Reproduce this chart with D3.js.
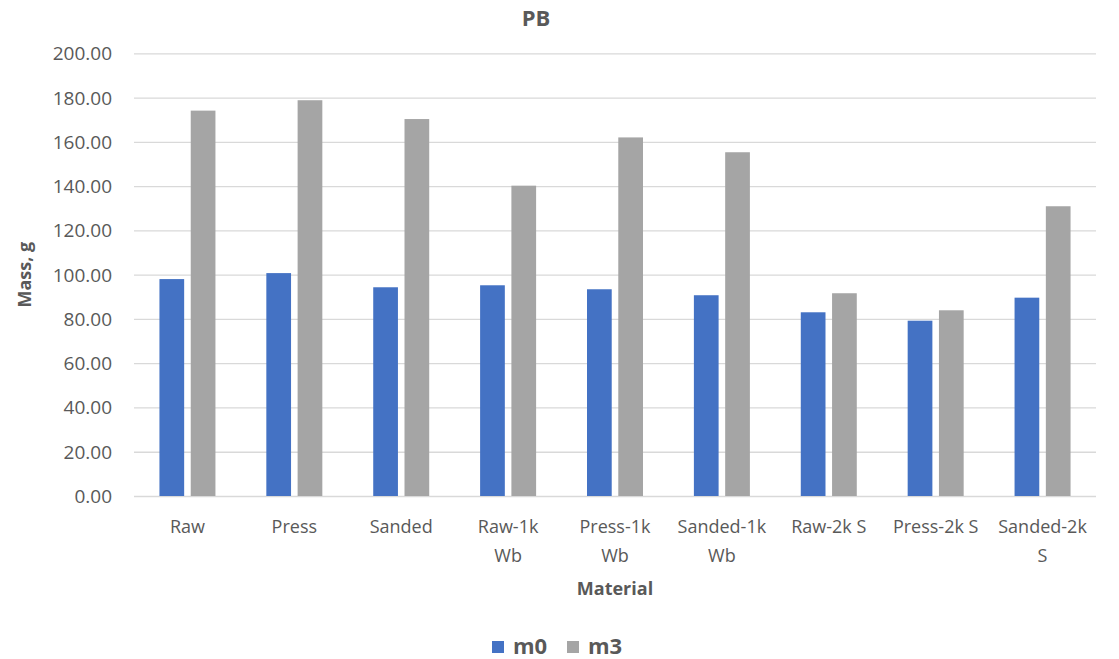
<!DOCTYPE html>
<html>
<head>
<meta charset="utf-8">
<script src="https://cdn.jsdelivr.net/npm/d3@7"></script>
<style>
  html, body { margin: 0; padding: 0; background: #ffffff; }
  svg { display: block; }
</style>
</head>
<body>
<svg id="chart" width="1119" height="659"></svg>
<script>
// Material categories and mass series (g)
const categories = ["Raw", "Press", "Sanded", "Raw-1k Wb", "Press-1k Wb", "Sanded-1k Wb", "Raw-2k S", "Press-2k S", "Sanded-2k S"];
const categoryLines = [["Raw"], ["Press"], ["Sanded"], ["Raw-1k", "Wb"], ["Press-1k", "Wb"], ["Sanded-1k", "Wb"], ["Raw-2k S"], ["Press-2k S"], ["Sanded-2k", "S"]];
const seriesNames = ["m0", "m3"];
const m0 = [98.0, 100.7, 94.3, 95.2, 93.4, 90.7, 83.0, 79.2, 89.6];
const m3 = [174.1, 178.8, 170.3, 140.2, 162.0, 155.3, 91.6, 83.9, 130.9];
const yTicks = [0, 20, 40, 60, 80, 100, 120, 140, 160, 180, 200];
const colors = ["#4472C4", "#A5A5A5"];

const svg = d3.select("#chart");
const font = "'Open Sans', 'Liberation Sans', sans-serif";
const textColor = "#595959";

const plot = { left: 134, right: 1096, top: 53.3, bottom: 496 };

const x0 = d3.scaleBand().domain(categories).range([plot.left, plot.right]).padding(0);
const groupWidth = 56;
const x1 = d3.scaleBand().domain(seriesNames).range([0, groupWidth]).paddingInner(0.21).paddingOuter(0);
const y = d3.scaleLinear().domain([0, 200]).range([plot.bottom, plot.top]);

// Gridlines and y tick labels
const yAxis = d3.axisLeft(y).tickValues(yTicks).tickSize(-(plot.right - plot.left)).tickPadding(22)
  .tickFormat(d3.format(".2f"));
const gy = svg.append("g").attr("transform", `translate(${plot.left},0)`).call(yAxis);
gy.select(".domain").remove();
gy.selectAll(".tick line").attr("stroke", "#D9D9D9").attr("stroke-width", 1.3);
gy.selectAll(".tick text").attr("fill", textColor).attr("font-family", font).attr("font-size", "19px")
  .attr("dy", "0.34em");

// Bars
const rows = categories.map((c, i) => ({ cat: c, vals: [m0[i], m3[i]] }));
const groups = svg.append("g").selectAll("g").data(rows).join("g")
  .attr("transform", d => `translate(${x0(d.cat) + (x0.bandwidth() - groupWidth) / 2},0)`);
groups.selectAll("rect").data(d => d.vals.map((v, k) => ({ key: seriesNames[k], v, k })))
  .join("rect")
  .attr("x", d => x1(d.key))
  .attr("width", x1.bandwidth())
  .attr("y", d => y(d.v))
  .attr("height", d => y(0) - y(d.v))
  .attr("fill", d => colors[d.k]);

// Category labels (wrapped)
const labels = svg.append("g");
categories.forEach((c, i) => {
  const t = labels.append("text")
    .attr("x", x0(c) + x0.bandwidth() / 2)
    .attr("y", 533)
    .attr("text-anchor", "middle")
    .attr("fill", textColor)
    .attr("font-family", font)
    .attr("font-size", "18px");
  categoryLines[i].forEach((line, j) => {
    t.append("tspan").attr("x", x0(c) + x0.bandwidth() / 2).attr("dy", j === 0 ? 0 : 29).text(line);
  });
});

// Titles
svg.append("text").attr("x", 536).attr("y", 26).attr("text-anchor", "middle")
  .attr("fill", textColor).attr("font-family", font).attr("font-weight", "bold").attr("font-size", "22px")
  .text("PB");
svg.append("text").attr("x", (plot.left + plot.right) / 2).attr("y", 595).attr("text-anchor", "middle")
  .attr("fill", textColor).attr("font-family", font).attr("font-weight", "bold").attr("font-size", "18px")
  .text("Material");
svg.append("text").attr("transform", `translate(31,${(plot.top + plot.bottom) / 2}) rotate(-90)`)
  .attr("text-anchor", "middle")
  .attr("fill", textColor).attr("font-family", font).attr("font-weight", "bold").attr("font-size", "18px")
  .text("Mass, g");

// Legend
const legend = svg.append("g").attr("transform", "translate(492,641)");
const legendX = [0, 75];
seriesNames.forEach((s, i) => {
  const g = legend.append("g").attr("transform", `translate(${legendX[i]},0)`);
  g.append("rect").attr("width", 12).attr("height", 12).attr("fill", colors[i]);
  g.append("text").attr("x", 21).attr("y", 13).attr("fill", textColor)
    .attr("font-family", font).attr("font-weight", "bold").attr("font-size", "22px").text(s);
});
</script>
</body>
</html>
